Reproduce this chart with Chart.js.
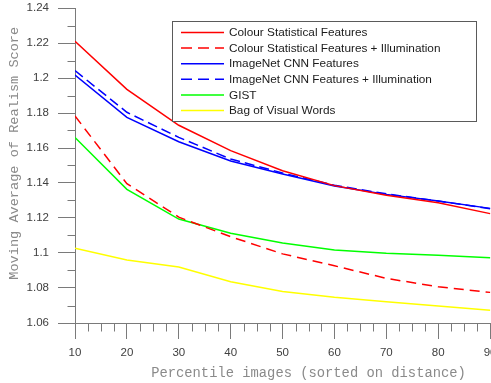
<!DOCTYPE html>
<html>
<head>
<meta charset="utf-8">
<script src="https://cdn.jsdelivr.net/npm/chart.js@4"></script>
<style>
  html, body { margin: 0; padding: 0; background: #fff; overflow: hidden; }
  #wrap { width: 491px; height: 383px; overflow: hidden; }
</style>
</head>
<body>
<div id="wrap"><canvas id="chart" width="560" height="383"></canvas></div>
<script>
// percentile (x) values
const percentiles = [10, 20, 30, 40, 50, 60, 70, 80, 90];

// moving average of realism score per method
const colourStat      = [1.221, 1.1935, 1.173, 1.1585, 1.147, 1.1385, 1.133, 1.1287, 1.1225];
const colourStatIllum = [1.1783, 1.1396, 1.1205, 1.1093, 1.0995, 1.0927, 1.0855, 1.0807, 1.0775];
const cnn             = [1.2017, 1.1775, 1.1636, 1.1526, 1.1451, 1.1383, 1.1335, 1.1297, 1.1255];
const cnnIllum        = [1.2042, 1.1804, 1.1661, 1.1537, 1.1457, 1.1387, 1.1338, 1.1297, 1.1253];
const gist            = [1.166, 1.1364, 1.1194, 1.1113, 1.1057, 1.1017, 1.0998, 1.0987, 1.0973];
const bovw            = [1.1027, 1.096, 1.092, 1.0836, 1.078, 1.0747, 1.0722, 1.0697, 1.0673];

const seriesNames = [
  'Colour Statistical Features',
  'Colour Statistical Features + Illumination',
  'ImageNet CNN Features',
  'ImageNet CNN Features + Illumination',
  'GIST',
  'Bag of Visual Words'
];

const xTitle = 'Percentile images (sorted on distance)';
const yTitle = 'Moving Average of Realism Score';

const AXIS_GREY = '#7a7a7a';

function toPoints(arr) {
  return arr.map((v, i) => ({ x: percentiles[i], y: v }));
}

function line(label, arr, color, dash) {
  return {
    label: label,
    data: toPoints(arr),
    borderColor: color,
    borderWidth: 1.5,
    borderDash: dash || [],
    pointRadius: 0,
    tension: 0,
    fill: false
  };
}

/* ===============================
   MINOR TICKS (short marks)
================================ */
const minorTicks = {
  id: 'minorTicks',
  afterDraw(chart) {
    const ctx = chart.ctx;
    const xs = chart.scales.x;
    const ys = chart.scales.y;
    ctx.save();
    ctx.strokeStyle = AXIS_GREY;
    ctx.lineWidth = 1;
    ctx.beginPath();
    for (let v = xs.min; v <= xs.max + 0.001; v += 2.5) {
      if (Math.abs(v % 10) < 0.001) continue;
      const px = Math.round(xs.getPixelForValue(v)) + 0.5;
      const py = Math.round(ys.bottom) + 0.5;
      ctx.moveTo(px, py);
      ctx.lineTo(px, py + 8);
    }
    for (let k = 0; k <= 18; k++) {
      if (k % 2 === 0) continue;
      const v = ys.min + k * 0.01;
      const py = Math.round(ys.getPixelForValue(v)) + 0.5;
      const px = Math.round(xs.left) + 0.5;
      ctx.moveTo(px, py);
      ctx.lineTo(px - 8, py);
    }
    ctx.stroke();
    ctx.restore();
  }
};

/* ===============================
   LEGEND BOX (inside axes)
================================ */
const boxLegend = {
  id: 'boxLegend',
  afterDatasetsDraw(chart) {
    const ctx = chart.ctx;
    const left = 172.5, top = 21.5, right = 476.5, bottom = 121.5;
    ctx.save();
    ctx.fillStyle = '#fff';
    ctx.fillRect(left, top, right - left, bottom - top);
    ctx.strokeStyle = '#5a5a5a';
    ctx.lineWidth = 1;
    ctx.strokeRect(left, top, right - left, bottom - top);

    ctx.font = '11.8px "Liberation Sans", Arial, sans-serif';
    ctx.textBaseline = 'middle';
    chart.data.datasets.forEach((ds, i) => {
      const y = 32.5 + i * 15.6;
      ctx.strokeStyle = ds.borderColor;
      ctx.lineWidth = 1.5;
      ctx.setLineDash(ds.borderDash.length ? [11, 6] : []);
      ctx.beginPath();
      ctx.moveTo(181, y);
      ctx.lineTo(224, y);
      ctx.stroke();
      ctx.setLineDash([]);
      ctx.fillStyle = '#1a1a1a';
      ctx.fillText(ds.label, 229, y + 0.5);
    });
    ctx.restore();
  }
};

new Chart(document.getElementById('chart'), {
  type: 'line',
  data: {
    datasets: [
      line(seriesNames[0], colourStat, '#ff0000'),
      line(seriesNames[1], colourStatIllum, '#ff0000', [10, 6]),
      line(seriesNames[2], cnn, '#0000ff'),
      line(seriesNames[3], cnnIllum, '#0000ff', [10, 5]),
      line(seriesNames[4], gist, '#00ff00'),
      line(seriesNames[5], bovw, '#ffff00')
    ]
  },
  options: {
    responsive: false,
    animation: false,
    layout: { padding: { left: 0, top: 0, right: 18, bottom: 0 } },
    plugins: {
      legend: { display: false },
      tooltip: { enabled: false }
    },
    scales: {
      x: {
        type: 'linear',
        min: 10,
        max: 100,
        afterFit(scale) {
          scale.height = 60;
          scale.paddingRight = 0;
        },
        grid: {
          drawOnChartArea: false,
          tickLength: 16,
          color: AXIS_GREY
        },
        border: { color: AXIS_GREY, width: 1 },
        ticks: {
          stepSize: 10,
          padding: 7,
          maxRotation: 0,
          color: '#404040',
          font: { family: '"Liberation Sans", Arial, sans-serif', size: 11.5 }
        },
        title: {
          display: true,
          text: xTitle,
          color: '#8a8a8a',
          padding: { top: 0, bottom: 1.5 },
          font: { family: '"Liberation Mono", "Courier New", monospace', size: 13.8 }
        }
      },
      y: {
        min: 1.06,
        max: 1.24,
        afterFit(scale) {
          scale.width = 75;
          scale.paddingTop = 8;
        },
        grid: {
          drawOnChartArea: false,
          tickLength: 17,
          color: AXIS_GREY
        },
        border: { color: AXIS_GREY, width: 1 },
        ticks: {
          stepSize: 0.02,
          padding: 9,
          color: '#404040',
          font: { family: '"Liberation Sans", Arial, sans-serif', size: 11.5 },
          callback: v => String(parseFloat(v.toFixed(2)))
        },
        title: {
          display: true,
          // leading spaces lift the centred label a little, as in the original figure
          text: '   ' + yTitle,
          color: '#8a8a8a',
          padding: { top: 6, bottom: 0 },
          font: { family: '"Liberation Mono", "Courier New", monospace', size: 13.6 }
        }
      }
    }
  },
  plugins: [minorTicks, boxLegend]
});
</script>
</body>
</html>
